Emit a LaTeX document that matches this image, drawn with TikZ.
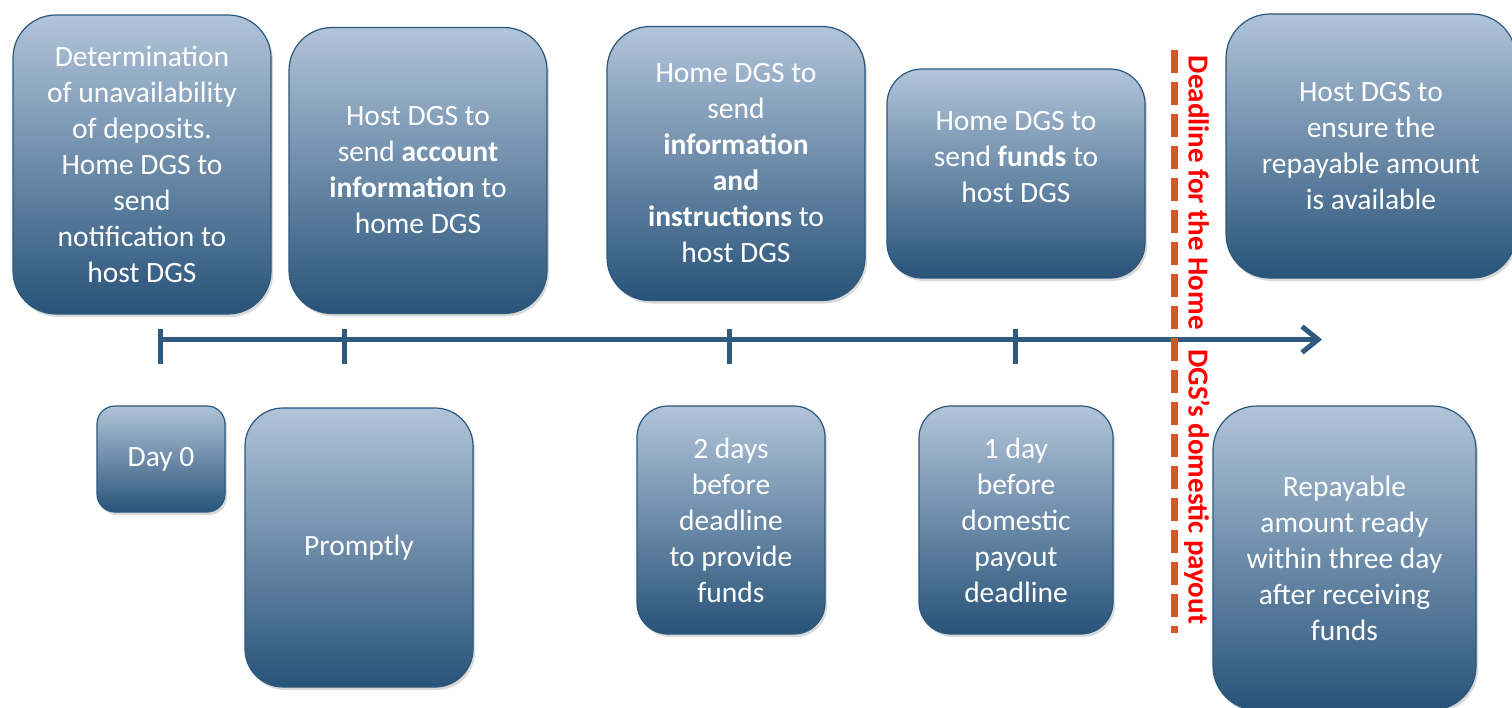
\documentclass[tikz,border=0pt]{standalone}
\usepackage{fontspec}
\setmainfont{Carlito}
\usetikzlibrary{shadows,arrows.meta}
\definecolor{boxtop}{RGB}{177,196,217}
\definecolor{boxbot}{RGB}{40,83,121}
\definecolor{boxline}{RGB}{44,88,126}
\definecolor{axisblue}{RGB}{47,90,126}
\definecolor{dashred}{RGB}{217,83,42}
\definecolor{textred}{RGB}{255,0,0}
\tikzset{
  box/.style={draw=boxline, line width=1.2pt, top color=boxtop, bottom color=boxbot,
    text=white, align=center, inner sep=0pt,
    drop shadow={shadow xshift=2pt, shadow yshift=-3pt, opacity=0.3}},
  axisline/.style={draw=axisblue, line width=5pt},
  ticklinestyle/.style={draw=axisblue, line width=5pt},
  deadlinestyle/.style={draw=dashred, line width=7pt, dash pattern=on 23pt off 9pt},
  deadlinetext/.style={rotate=-90, text=textred, inner sep=0pt,
    font=\bfseries\fontsize{29}{36}\selectfont},
  plaintext/.style={text=white, align=center, inner sep=0pt}
}
\begin{document}
\begin{tikzpicture}[x=1pt, y=-1pt, font=\fontsize{29.5}{36}\selectfont]
\useasboundingbox (0,0) rectangle (1512,707);
% top boxes
\node[box, minimum width=258, minimum height=299, rounded corners=43] (b1) at (142,164.5)
  {Determination\\of unavailability\\of deposits.\\Home DGS to\\send\\notification to\\host DGS};
\node[box, minimum width=258, minimum height=286, rounded corners=43] (b2) at (418,170.5)
  {Host DGS to\\send \textbf{account}\\\textbf{information} to\\home DGS};
\node[box, minimum width=258, minimum height=274, rounded corners=43] (b3) at (736,163.5)
  {Home DGS to\\send\\\textbf{information}\\\textbf{and}\\\textbf{instructions} to\\host DGS};
\node[box, minimum width=258, minimum height=209, rounded corners=35] (b4) at (1016,173.5) {};
\node[plaintext] (b4text) at (1016,157) {Home DGS to\\send \textbf{funds} to\\host DGS};
\node[box, minimum width=290, minimum height=264, rounded corners=44] (b5) at (1371,146)
  {Host DGS to\\ensure the\\repayable amount\\is available};
% bottom boxes
\node[box, minimum width=128, minimum height=106, rounded corners=18] (c1) at (161,459) {Day 0};
\node[box, minimum width=228, minimum height=279, rounded corners=38] (c2) at (359,547.5) {Promptly};
\node[box, minimum width=188, minimum height=228, rounded corners=31] (c3) at (731,520)
  {2 days\\before\\deadline\\to provide\\funds};
\node[box, minimum width=194, minimum height=228, rounded corners=32] (c4) at (1016,520)
  {1 day\\before\\domestic\\payout\\deadline};
\node[box, minimum width=263, minimum height=304, rounded corners=44] (c5) at (1344.5,558)
  {Repayable\\amount ready\\within three day\\after receiving\\funds};
% timeline
\coordinate (t0) at (160,339.5);
\coordinate (t1) at (344,339.5);
\coordinate (t2) at (729,339.5);
\coordinate (t3) at (1015,339.5);
\coordinate (tend) at (1322,339.5);
\draw[axisline, -{Straight Barb[length=16pt,width=26pt]}] (t0) -- (tend);
\foreach \t in {t0,t1,t2,t3}{
  \draw[ticklinestyle] ([yshift=10.5pt]\t) -- ([yshift=-24.5pt]\t);
}
% deadline
\coordinate (dtop) at (1174,50);
\coordinate (dbot) at (1174,633);
\draw[deadlinestyle] (dtop) -- (dbot);
\node[deadlinetext] (deadline) at (1197,340) {Deadline for the Home\hspace{20pt}DGS’s domestic payout};
\end{tikzpicture}
\end{document}
